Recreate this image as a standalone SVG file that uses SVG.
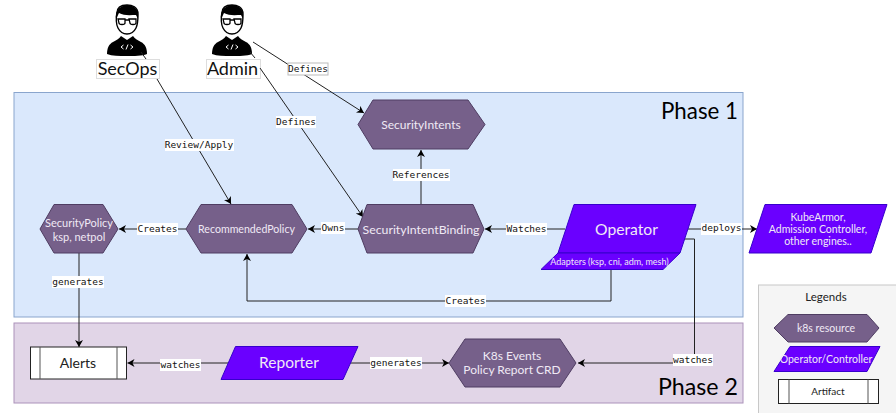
<svg xmlns="http://www.w3.org/2000/svg" width="896" height="413" viewBox="0 0 896 413">
<style>
text{font-family:"Lato","Open Sans",sans-serif;text-anchor:middle}
.res{fill:#76608a;stroke:#4f3d62;stroke-width:1}
.ctl{fill:#6a00ff;stroke:#3700cc;stroke-width:1}
.art{fill:#fff;stroke:#222;stroke-width:1}
.in{stroke:#555;stroke-width:1;fill:none}
.w{fill:#f0e9f5}
.c{fill:none;stroke:#222;stroke-width:1;marker-end:url(#a)}
.l{fill:#fff}
.m{font-family:"DejaVu Sans Mono","Liberation Mono",monospace;font-size:9.5px;fill:#111}
.big{font-size:24px;fill:#000}
</style>
<defs>
<marker id="a" markerUnits="userSpaceOnUse" markerWidth="9" markerHeight="9" refX="7" refY="4" orient="auto"><path d="M0 0L7 4L0 8L2 4Z" fill="#000"/></marker>
<symbol id="person" viewBox="0 0 42 48" overflow="visible">
<path d="M1 46C1 40 3 36 7 34C10 32 13 31 15 28L21 32L27 28C29 31 32 32 35 34C39 36 41 40 41 46C36 48 28 48 21 48C13 48 6 48 1 46Z" fill="#000" transform="translate(0,3)"/>
<path d="M11 8C11 2 16 0 21 0C26 0 32 2 32 9C32 14 32 19 30 23C28 27 24 29 21 29C18 29 14 27 12 23C10 19 10 13 11 8Z" fill="#fff" stroke="#000" stroke-width="1.4"/>
<path d="M10 14C9 7 12 1 21 0C29 0 33 5 32 14L30 10C25 10 18 11 13 8C12 10 11 12 10 14Z" fill="#000"/>
<path d="M12 14H19V18C19 20 13 20 13 18ZM23 14H30V18C30 20 24 20 24 18ZM19 15H23" fill="#fff" stroke="#000" stroke-width="1.3"/>
<path d="M17.500 40L15 42L17.500 44M24.500 40L27 42L24.500 44M22 39.500L20 44.500" fill="none" stroke="#fff" stroke-width="1"/>
</symbol>
</defs>
<g id="phase1"><rect x="14" y="92.500" width="729" height="224.500" fill="#dae8fc" stroke="#8aa5cd"/><text x="699.500" y="119" class="big" textLength="77" lengthAdjust="spacingAndGlyphs">Phase 1</text></g>
<g id="phase2"><rect x="14" y="323" width="729" height="80" fill="#e1d5e7" stroke="#ab92ba"/><text x="698" y="395" class="big" textLength="80" lengthAdjust="spacingAndGlyphs">Phase 2</text></g>
<g id="legend"><rect x="758.500" y="285" width="140" height="130" fill="#f5f5f5" stroke="#c8c8c8"/><text x="826" y="301" font-size="11.500" fill="#222">Legends</text>
<polygon class="res" points="774,328 788,314.500 867,314.500 879,328 867,342 788,342"/><text x="826" y="332" font-size="10.500" class="w">k8s resource</text>
<polygon class="ctl" points="790,346.500 880,346.500 867,371.500 774,371.500"/><text x="826" y="363" font-size="10.500" class="w">Operator/Controller</text>
<rect class="art" x="778.500" y="379.500" width="100" height="24"/><path class="in" d="M789 379.500V403.500M868 379.500V403.500"/><text x="828" y="395" font-size="10" fill="#222">Artifact</text></g>
<g id="secops"><use href="#person" x="106" y="5" width="42" height="48"/><rect x="96.500" y="59.500" width="63" height="19" fill="#fff" stroke="#ddd"/><text x="127.500" y="74.500" font-size="18" fill="#111">SecOps</text></g>
<g id="admin"><use href="#person" x="211" y="5" width="42" height="48"/><rect x="206.500" y="59.500" width="54" height="19" fill="#fff" stroke="#ddd"/><text x="232.500" y="74.500" font-size="18" fill="#111">Admin</text></g>
<g id="connectors">
<path d="M141 52L146 59M157 79L231 204" class="c"/>
<path d="M250 52L255 58M260 68L363 217" class="c"/>
<path d="M253 42L364 113" class="c"/>
<path d="M421 205V150" class="c"/>
<path d="M565 229H485" class="c"/>
<path d="M686 229H757" class="c"/>
<path d="M358 229H308" class="c"/>
<path d="M186 229H119" class="c"/>
<path d="M611 270V301H247V254" class="c"/>
<path d="M79 253V347" class="c"/>
<path d="M683 239H694.500V363H578" class="c"/>
<path d="M228 363H127.500" class="c"/>
<path d="M350 363H449" class="c"/>
</g>
<g id="labels">
<rect x="288" y="63" width="40" height="12" class="l" stroke="#bbb"/><text x="308" y="72" class="m">Defines</text>
<rect x="276" y="116" width="40" height="12" class="l"/><text x="296" y="125" class="m">Defines</text>
<rect x="165" y="139" width="69" height="12" class="l"/><text x="199" y="148" class="m">Review/Apply</text>
<rect x="393" y="169" width="57" height="12" class="l"/><text x="421" y="178" class="m">References</text>
<rect x="506" y="223" width="41" height="12" class="l"/><text x="526.500" y="232" class="m">Watches</text>
<rect x="701" y="223" width="41" height="12" class="l"/><text x="721.500" y="231" class="m">deploys</text>
<rect x="321" y="222" width="24" height="12" class="l"/><text x="333" y="231" class="m">Owns</text>
<rect x="137" y="223" width="41" height="12" class="l"/><text x="157.500" y="232" class="m">Creates</text>
<rect x="445" y="295" width="41" height="12" class="l"/><text x="465.500" y="304" class="m">Creates</text>
<rect x="52" y="276" width="52" height="12" class="l"/><text x="78" y="285" class="m">generates</text>
<rect x="673" y="354" width="40" height="12" class="l"/><text x="693" y="363" class="m">watches</text>
<rect x="160" y="359" width="41" height="12" class="l"/><text x="180.500" y="368" class="m">watches</text>
<rect x="370" y="357" width="52" height="12" class="l"/><text x="396" y="366" class="m">generates</text>
</g>
<g id="securityintents"><polygon class="res" points="358,124.500 373,100 468,100 485,124.500 468,149 373,149"/><text x="421" y="129" font-size="12" class="w">SecurityIntents</text></g>
<g id="securityintentbinding"><polygon class="res" points="358,229 367,204.500 473,204.500 484,229 473,253 367,253"/><text x="421" y="233.500" font-size="12.300" class="w">SecurityIntentBinding</text></g>
<g id="recommendedpolicy"><polygon class="res" points="186,229 201,204.500 292,204.500 307,229 292,253 201,253"/><text x="246.500" y="233" font-size="10.600" class="w">RecommendedPolicy</text></g>
<g id="securitypolicy"><polygon class="res" points="40,229 54,204.500 103,204.500 118,229 103,253 54,253"/><text x="79" y="227" font-size="11" class="w">SecurityPolicy</text><text x="79" y="241" font-size="11" class="w">ksp, netpol</text></g>
<g id="operator"><polygon class="ctl" points="574,204.500 696,204.500 680,253 558,253"/><text x="626.500" y="235" font-size="15.700" class="w">Operator</text><polygon class="ctl" points="558,253 680,253 663,269.500 541,269.500"/><text x="609.500" y="265" font-size="9" class="w">Adapters (ksp, cni, adm, mesh)</text></g>
<g id="kubearmor"><polygon class="ctl" points="765,204.500 887,204.500 871,253 749,253"/><text x="818" y="221" font-size="10.500" class="w">KubeArmor,</text><text x="818" y="233" font-size="10.500" class="w">Admission Controller,</text><text x="818" y="245" font-size="10.500" class="w">other engines..</text></g>
<g id="alerts"><rect class="art" x="30.500" y="347" width="96" height="32"/><path class="in" d="M40 347V379M117 347V379"/><text x="78" y="367.500" font-size="14" fill="#222">Alerts</text></g>
<g id="reporter"><polygon class="ctl" points="235.500,346.500 358,346.500 343,379.500 221,379.500"/><text x="289" y="368" font-size="15.500" class="w">Reporter</text></g>
<g id="k8sevents"><polygon class="res" points="449,363 465,339 560,339 576,363 560,387 465,387"/><text x="512" y="360" font-size="12" class="w">K8s Events</text><text x="512" y="374" font-size="12" class="w">Policy Report CRD</text></g>
</svg>
